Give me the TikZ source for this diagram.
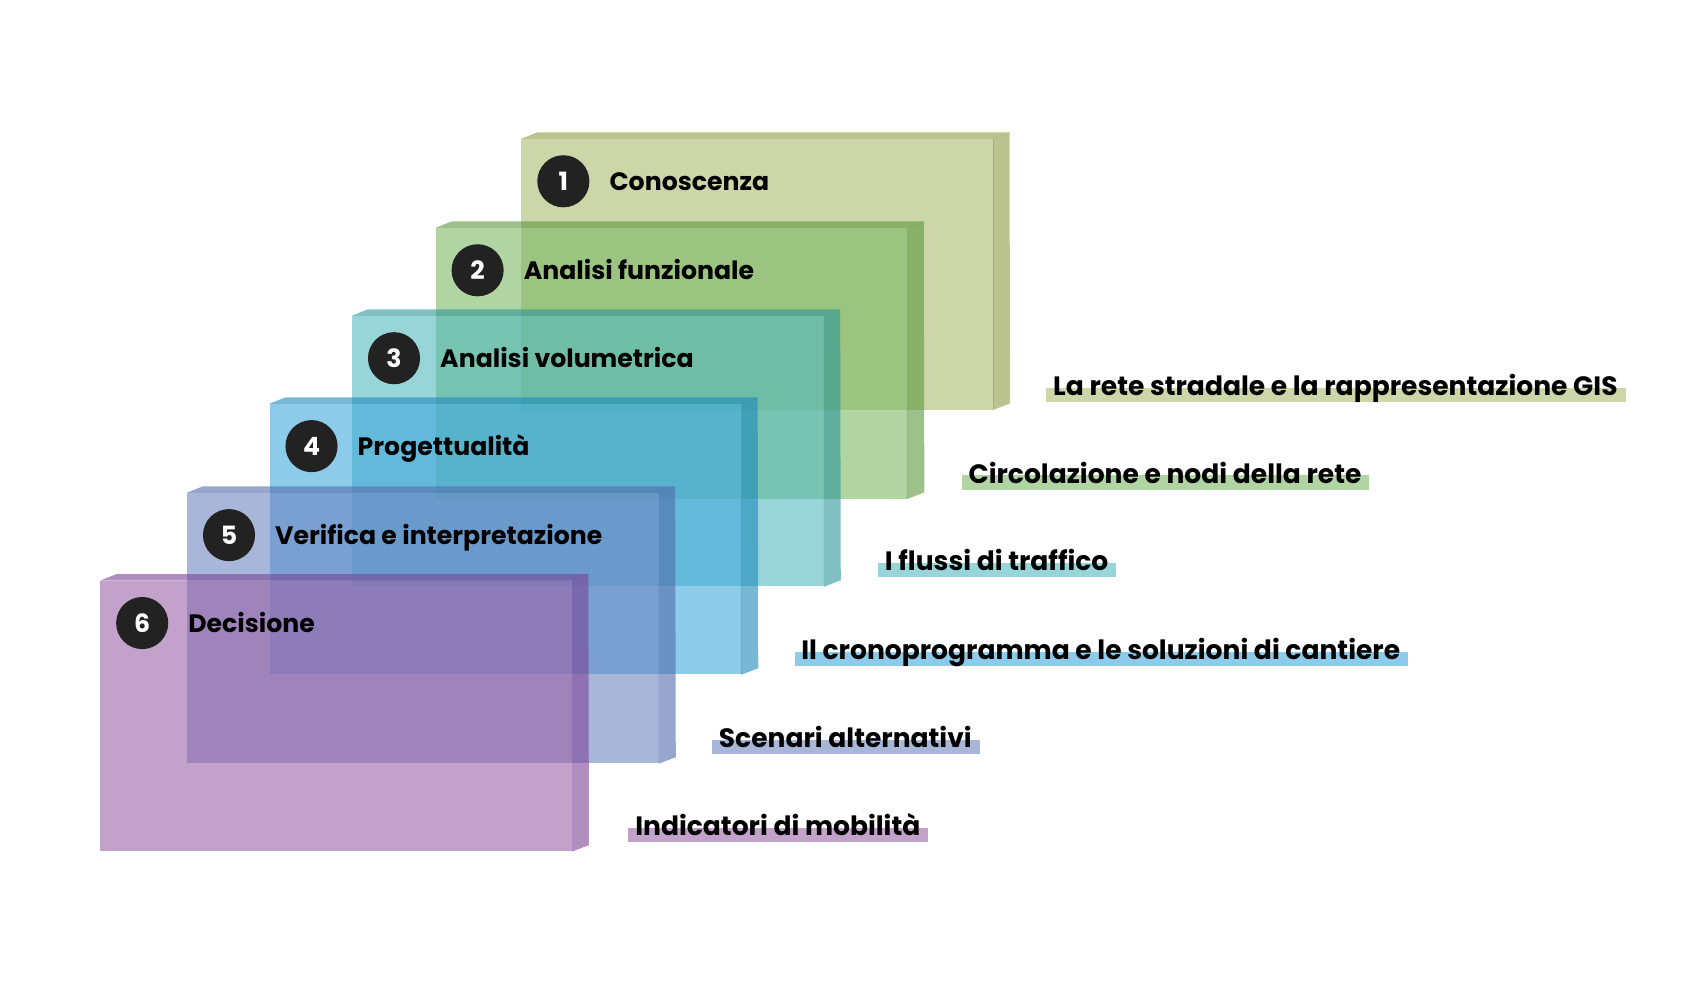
\documentclass[tikz,border=0pt]{standalone}
\usepackage{fontspec}
\setsansfont{Poppins}
\usetikzlibrary{positioning}
\usetikzlibrary{backgrounds}
\usetikzlibrary{calc}

\definecolor{olivebox}{HTML}{ACBB6E}
\definecolor{greenbox}{HTML}{7BB966}
\definecolor{tealbox}{HTML}{52B9BE}
\definecolor{bluebox}{HTML}{41A8DC}
\definecolor{slatebox}{HTML}{6E85C1}
\definecolor{plumbox}{HTML}{9964A7}
\definecolor{oliveside}{HTML}{8E9C45}
\definecolor{greenside}{HTML}{5A983C}
\definecolor{tealside}{HTML}{2B969B}
\definecolor{blueside}{HTML}{1E89BB}
\definecolor{slateside}{HTML}{526BAA}
\definecolor{plumside}{HTML}{7B4496}
\definecolor{numdark}{HTML}{222222}

\begin{document}
\begin{tikzpicture}[x=0.25mm, y=-0.25mm, font=\sffamily\bfseries\fontsize{16.5}{20}\selectfont,
	stepbox/.style={anchor=north west, minimum width=108.75mm, minimum height=62.25mm, inner sep=0, fill opacity=0.6},
	num/.style={circle, fill=numdark, text=white, minimum size=12mm, inner sep=0},
	title/.style={inner sep=0},
	lab/.style={anchor=base west, inner sep=0, font=\sffamily\bfseries\fontsize{17.4}{20}\selectfont}]
		\useasboundingbox (0, 0) rectangle (1568, 907);

		\node (s1) [stepbox, fill = olivebox] at (480, 128) {};
		\fill [oliveside, fill opacity = 0.6] (s1.north west) -- ++(15, -6) -- ([shift = {(15, -6)}] s1.north east) -- (s1.north east) -- cycle;
		\fill [oliveside, fill opacity = 0.6] ([xshift = -0.4pt] s1.north east) -- ++(15, -6) -- ([shift = {(15, -6)}] s1.south east) -- ([xshift = -0.4pt] s1.south east) -- cycle;
		\node (n1) [num] at ($(s1.north west) + (39, 39)$) {1};
		\node (t1) [title, base right = 4.5mm of n1] {Conoscenza};

		\node (s2) [stepbox, fill = greenbox] at (401, 210) {};
		\fill [greenside, fill opacity = 0.6] (s2.north west) -- ++(15, -6) -- ([shift = {(15, -6)}] s2.north east) -- (s2.north east) -- cycle;
		\fill [greenside, fill opacity = 0.6] ([xshift = -0.4pt] s2.north east) -- ++(15, -6) -- ([shift = {(15, -6)}] s2.south east) -- ([xshift = -0.4pt] s2.south east) -- cycle;
		\node (n2) [num] at ($(s2.north west) + (39, 39)$) {2};
		\node (t2) [title, base right = 4.5mm of n2] {Analisi funzionale};

		\node (s3) [stepbox, fill = tealbox] at (324, 291) {};
		\fill [tealside, fill opacity = 0.6] (s3.north west) -- ++(15, -6) -- ([shift = {(15, -6)}] s3.north east) -- (s3.north east) -- cycle;
		\fill [tealside, fill opacity = 0.6] ([xshift = -0.4pt] s3.north east) -- ++(15, -6) -- ([shift = {(15, -6)}] s3.south east) -- ([xshift = -0.4pt] s3.south east) -- cycle;
		\node (n3) [num] at ($(s3.north west) + (39, 39)$) {3};
		\node (t3) [title, base right = 4.5mm of n3] {Analisi volumetrica};

		\node (s4) [stepbox, fill = bluebox] at (248, 372) {};
		\fill [blueside, fill opacity = 0.6] (s4.north west) -- ++(15, -6) -- ([shift = {(15, -6)}] s4.north east) -- (s4.north east) -- cycle;
		\fill [blueside, fill opacity = 0.6] ([xshift = -0.4pt] s4.north east) -- ++(15, -6) -- ([shift = {(15, -6)}] s4.south east) -- ([xshift = -0.4pt] s4.south east) -- cycle;
		\node (n4) [num] at ($(s4.north west) + (39, 39)$) {4};
		\node (t4) [title, base right = 4.5mm of n4] {Progettualità};

		\node (s5) [stepbox, fill = slatebox] at (172, 454) {};
		\fill [slateside, fill opacity = 0.6] (s5.north west) -- ++(15, -6) -- ([shift = {(15, -6)}] s5.north east) -- (s5.north east) -- cycle;
		\fill [slateside, fill opacity = 0.6] ([xshift = -0.4pt] s5.north east) -- ++(15, -6) -- ([shift = {(15, -6)}] s5.south east) -- ([xshift = -0.4pt] s5.south east) -- cycle;
		\node (n5) [num] at ($(s5.north west) + (39, 39)$) {5};
		\node (t5) [title, base right = 4.5mm of n5] {Verifica e interpretazione};

		\node (s6) [stepbox, fill = plumbox] at (92, 535) {};
		\fill [plumside, fill opacity = 0.6] (s6.north west) -- ++(15, -6) -- ([shift = {(15, -6)}] s6.north east) -- (s6.north east) -- cycle;
		\fill [plumside, fill opacity = 0.6] ([xshift = -0.4pt] s6.north east) -- ++(15, -6) -- ([shift = {(15, -6)}] s6.south east) -- ([xshift = -0.4pt] s6.south east) -- cycle;
		\node (n6) [num] at ($(s6.north west) + (39, 39)$) {6};
		\node (t6) [title, base right = 4.5mm of n6] {Decisione};

		\node (l1) [lab] at (970, 364) {La rete stradale e la rappresentazione GIS};
		\node (l2) [lab] at (892, 445) {Circolazione e nodi della rete};
		\node (l3) [lab] at (815, 526) {I flussi di traffico};
		\node (l4) [lab] at (738, 608) {Il cronoprogramma e le soluzioni di cantiere};
		\node (l5) [lab] at (662, 689) {Scenari alternativi};
		\node (l6) [lab] at (585, 770) {Indicatori di mobilità};

		\begin{scope}[on background layer]
			\fill [olivebox, fill opacity = 0.6] ($(l1.base west) + (-6, -7)$) rectangle ($(l1.base east) + (7, 6)$);
			\fill [greenbox, fill opacity = 0.6] ($(l2.base west) + (-6, -7)$) rectangle ($(l2.base east) + (7, 6)$);
			\fill [tealbox, fill opacity = 0.6] ($(l3.base west) + (-6, -7)$) rectangle ($(l3.base east) + (7, 6)$);
			\fill [bluebox, fill opacity = 0.6] ($(l4.base west) + (-6, -7)$) rectangle ($(l4.base east) + (7, 6)$);
			\fill [slatebox, fill opacity = 0.6] ($(l5.base west) + (-6, -7)$) rectangle ($(l5.base east) + (7, 6)$);
			\fill [plumbox, fill opacity = 0.6] ($(l6.base west) + (-6, -7)$) rectangle ($(l6.base east) + (7, 6)$);
		\end{scope}
	\end{tikzpicture}
\end{document}
